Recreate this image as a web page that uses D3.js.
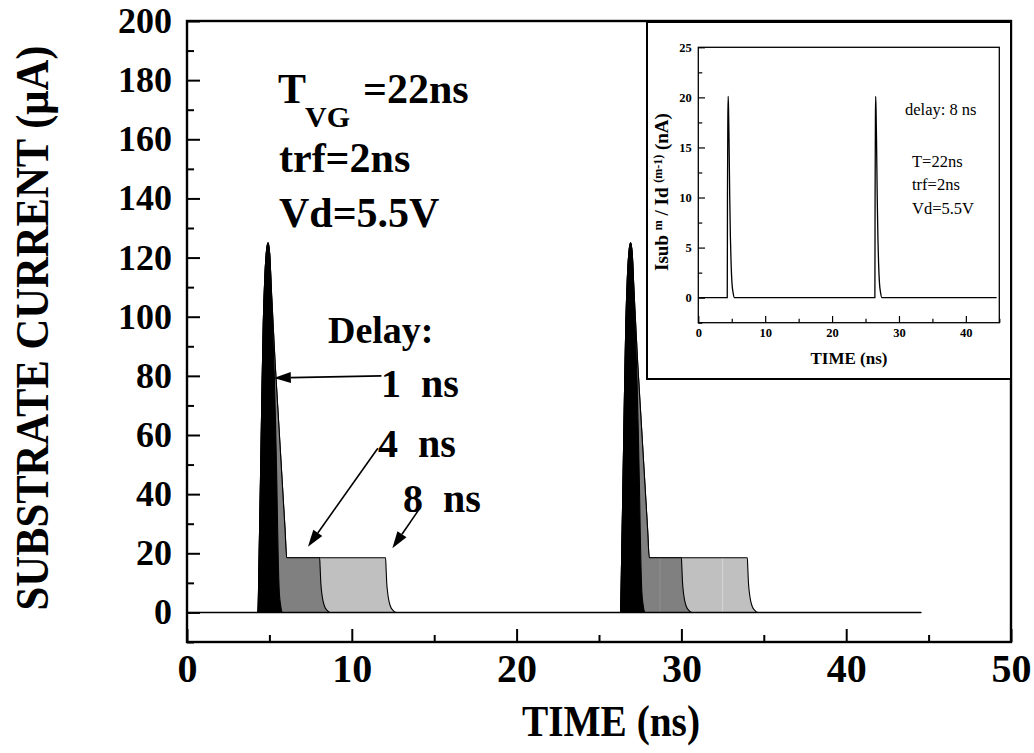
<!DOCTYPE html>
<html><head><meta charset="utf-8">
<script src="https://cdn.jsdelivr.net/npm/d3@7"></script>
<style>
body{margin:0;background:#fff}
text{font-family:"Liberation Serif","Times New Roman",Times,serif;}
</style>
</head><body>
<svg id="c" width="1034" height="753"></svg>
<script>
// ---------------- data ----------------
const mainXTicks = [0, 10, 20, 30, 40, 50];
const mainXMinor = [5, 15, 25, 35, 45];
const mainYTicks = [0, 20, 40, 60, 80, 100, 120, 140, 160, 180, 200];
const mainYMinor = [-10, 10, 30, 50, 70, 90, 110, 130, 150, 170, 190];

// substrate current (uA) vs time (ns), delay = 1 ns
const delay1ns = [[0,0],[4.30,0],[4.38,20],[4.46,45],[4.55,75],[4.63,98],[4.72,113],[4.82,122],[4.92,125],[5.02,121],[5.12,108],[5.22,92],[5.30,80],[5.38,62],[5.45,44],[5.50,28],[5.55,15],[5.60,7],[5.68,2.5],[5.80,0],
  [26.30,0],[26.38,20],[26.46,45],[26.55,75],[26.63,98],[26.72,113],[26.82,122],[26.92,125],[27.02,121],[27.12,108],[27.22,92],[27.30,80],[27.38,62],[27.45,44],[27.50,28],[27.55,15],[27.60,7],[27.68,2.5],[27.80,0],[44.55,0]];
// delay = 4 ns
const delay4ns = [[0,0],[4.30,0],[4.38,20],[4.46,45],[4.55,75],[4.63,98],[4.72,113],[4.82,122],[4.92,125],[5.02,121],[5.12,109],[5.22,98],[5.35,84],[5.50,70],[5.65,56],[5.80,42],[5.95,28],[6.05,18.5],[8.05,18.5],[8.08,15],[8.12,10],[8.18,6.5],[8.25,4],[8.35,2],[8.50,0.7],[8.70,0],
  [26.30,0],[26.38,20],[26.46,45],[26.55,75],[26.63,98],[26.72,113],[26.82,122],[26.92,125],[27.02,121],[27.12,109],[27.22,98],[27.35,84],[27.50,70],[27.65,56],[27.80,42],[27.95,28],[28.05,18.5],[30.00,18.5],[30.03,15],[30.07,10],[30.13,6.5],[30.20,4],[30.30,2],[30.45,0.7],[30.65,0],[44.55,0]];
// delay = 8 ns
const delay8ns = [[0,0],[4.30,0],[4.38,20],[4.46,45],[4.55,75],[4.63,98],[4.72,113],[4.82,122],[4.92,125],[5.02,121],[5.12,109],[5.22,98],[5.35,84],[5.50,70],[5.65,56],[5.80,42],[5.95,28],[6.05,18.5],[12.05,18.5],[12.08,15],[12.12,10],[12.18,6.5],[12.25,4],[12.35,2],[12.50,0.7],[12.70,0],
  [26.30,0],[26.38,20],[26.46,45],[26.55,75],[26.63,98],[26.72,113],[26.82,122],[26.92,125],[27.02,121],[27.12,109],[27.22,98],[27.35,84],[27.50,70],[27.65,56],[27.80,42],[27.95,28],[28.05,18.5],[34.00,18.5],[34.03,15],[34.07,10],[34.13,6.5],[34.20,4],[34.30,2],[34.45,0.7],[34.65,0],[44.55,0]];
// faint seams seen inside the second pulse
const seams = [[28.7, 18.5, "dark"], [32.5, 18.5, "light"]];

// inset
const insetXTicks = [0, 10, 20, 30, 40];
const insetXMinor = [5, 15, 25, 35, 45];
const insetYTicks = [0, 5, 10, 15, 20, 25];
const insetYMinor = [-2.5, 2.5, 7.5, 12.5, 17.5, 22.5];
const insetSignal = [[0,0],[4.33,0],[4.36,10],[4.42,18],[4.47,20.1],[4.53,18.5],[4.60,15.5],[4.70,10],[4.80,6],[4.90,3.5],[5.03,1.5],[5.20,0.5],[5.40,0],
  [26.40,0],[26.43,10],[26.48,18],[26.52,20.1],[26.58,18.5],[26.65,15.5],[26.75,10],[26.85,6],[26.95,3.5],[27.08,1.5],[27.25,0.5],[27.45,0],[44.6,0]];

// arrows (data coordinates: [tail t, tail v, head t, head v])
const arrows = [[11.8, 80, 5.27, 79.3], [11.58, 55.5, 7.34, 22.2], [14.05, 34.6, 12.46, 21.7]];

// ---------------- drawing ----------------
const svg = d3.select("#c");
const x = d3.scaleLinear().domain([0, 50]).range([187, 1011]);
const y = d3.scaleLinear().domain([-10, 200]).range([642, 21]);

const fills = {d8: "#c0c0c0", d4: "#808080", d1: "#000000"};
const area = d3.area().x(d => x(d[0])).y0(y(0)).y1(d => y(d[1])).curve(d3.curveMonotoneX);
const line = d3.line().x(d => x(d[0])).y(d => y(d[1])).curve(d3.curveMonotoneX);

[[delay8ns, fills.d8], [delay4ns, fills.d4], [delay1ns, fills.d1]].forEach(([data, col]) => {
  svg.append("path").attr("d", area(data)).attr("fill", col).attr("stroke", "none");
  svg.append("path").attr("d", line(data)).attr("fill", "none").attr("stroke", "#000").attr("stroke-width", 1.1);
});
seams.forEach(s => {
  svg.append("line").attr("x1", x(s[0])).attr("x2", x(s[0])).attr("y1", y(0) - 1).attr("y2", y(s[1]) + 1)
    .attr("stroke", s[2] === "dark" ? "#8f8f8f" : "#d6d6d6").attr("stroke-width", 1);
});
// baseline
svg.append("line").attr("x1", x(0)).attr("x2", x(44.55)).attr("y1", y(0)).attr("y2", y(0))
  .attr("stroke", "#000").attr("stroke-width", 1.6);

// axes
function styleAxis(g, fs) {
  g.select(".domain").remove();
  g.selectAll(".tick line").attr("stroke", "#000").attr("stroke-width", 2);
  g.selectAll(".tick text").attr("fill", "#000").attr("font-weight", "bold").attr("font-size", fs)
    .attr("font-family", '"Liberation Serif","Times New Roman",serif');
}
const gy = svg.append("g").attr("transform", `translate(${x(0)},0)`)
  .call(d3.axisLeft(y).tickValues(mainYTicks).tickSize(-13).tickPadding(15).tickFormat(d3.format("d")));
styleAxis(gy, 36);
const gym = svg.append("g").attr("transform", `translate(${x(0)},0)`)
  .call(d3.axisLeft(y).tickValues(mainYMinor).tickSize(-7).tickFormat(""));
styleAxis(gym, 36);
const gx = svg.append("g").attr("transform", `translate(0,${y(-10)})`)
  .call(d3.axisBottom(x).tickValues(mainXTicks).tickSize(-13).tickPadding(12).tickFormat(d3.format("d")));
styleAxis(gx, 40);
const gxm = svg.append("g").attr("transform", `translate(0,${y(-10)})`)
  .call(d3.axisBottom(x).tickValues(mainXMinor).tickSize(-7).tickFormat(""));
styleAxis(gxm, 40);
svg.append("rect").attr("x", x(0)).attr("y", y(200)).attr("width", x(50) - x(0)).attr("height", y(-10) - y(200))
  .attr("fill", "none").attr("stroke", "#000").attr("stroke-width", 2.4);

// axis titles
svg.append("text").attr("transform", "translate(48,328) rotate(-90)").attr("text-anchor", "middle")
  .attr("font-weight", "bold").attr("font-size", 46).attr("textLength", 565).attr("lengthAdjust", "spacingAndGlyphs")
  .text("SUBSTRATE CURRENT (\u03bcA)");
svg.append("text").attr("x", 611).attr("y", 736).attr("text-anchor", "middle")
  .attr("font-weight", "bold").attr("font-size", 44).attr("textLength", 178).attr("lengthAdjust", "spacingAndGlyphs")
  .text("TIME (ns)");

// annotations
const ann = svg.append("g").attr("font-weight", "bold").attr("fill", "#000");
ann.append("text").attr("x", 278).attr("y", 103).attr("font-size", 42).text("T");
ann.append("text").attr("x", 305).attr("y", 127).attr("font-size", 30).text("VG");
ann.append("text").attr("x", 363).attr("y", 103).attr("font-size", 42).text("=22ns");
ann.append("text").attr("x", 279).attr("y", 172).attr("font-size", 42).text("trf=2ns");
ann.append("text").attr("x", 279).attr("y", 227).attr("font-size", 42).text("Vd=5.5V");
ann.append("text").attr("x", 328).attr("y", 343).attr("font-size", 38).text("Delay:");
ann.append("text").attr("x", 381).attr("y", 397).attr("font-size", 40).attr("word-spacing", 10).text("1 ns");
ann.append("text").attr("x", 378).attr("y", 457).attr("font-size", 40).attr("word-spacing", 10).text("4 ns");
ann.append("text").attr("x", 403).attr("y", 512).attr("font-size", 40).attr("word-spacing", 10).text("8 ns");

arrows.forEach(a => {
  const x1 = x(a[0]), y1 = y(a[1]), x2 = x(a[2]), y2 = y(a[3]);
  const ang = Math.atan2(y2 - y1, x2 - x1), L = 17, Wd = 5.5;
  const bx = x2 - L * Math.cos(ang), by = y2 - L * Math.sin(ang);
  svg.append("line").attr("x1", x1).attr("y1", y1).attr("x2", bx).attr("y2", by).attr("stroke", "#000").attr("stroke-width", 1.6);
  const p = [[x2, y2], [bx + Wd * Math.sin(ang), by - Wd * Math.cos(ang)], [bx - Wd * Math.sin(ang), by + Wd * Math.cos(ang)]];
  svg.append("path").attr("d", "M" + p.map(q => q.join(",")).join("L") + "Z").attr("fill", "#000");
});

// ---------------- inset ----------------
svg.append("rect").attr("x", 647).attr("y", 22).attr("width", 1011 - 647).attr("height", 379 - 22)
  .attr("fill", "#fff").attr("stroke", "#000").attr("stroke-width", 2);
const ix = d3.scaleLinear().domain([0, 45]).range([698.3, 999.3]);
const iy = d3.scaleLinear().domain([-2.5, 25]).range([322.7, 47.3]);
const iline = d3.line().x(d => ix(d[0])).y(d => iy(d[1])).curve(d3.curveMonotoneX);
svg.append("path").attr("d", iline(insetSignal)).attr("fill", "none").attr("stroke", "#000").attr("stroke-width", 1.3);

function styleInset(g) {
  g.select(".domain").remove();
  g.selectAll(".tick line").attr("stroke", "#000").attr("stroke-width", 1.2);
  g.selectAll(".tick text").attr("fill", "#000").attr("font-weight", "bold").attr("font-size", 12.5)
    .attr("font-family", '"Liberation Serif","Times New Roman",serif');
}
styleInset(svg.append("g").attr("transform", `translate(${ix(0)},0)`)
  .call(d3.axisLeft(iy).tickValues(insetYTicks).tickSize(-6.7).tickPadding(6.6).tickFormat(d3.format("d"))));
styleInset(svg.append("g").attr("transform", `translate(${ix(0)},0)`)
  .call(d3.axisLeft(iy).tickValues(insetYMinor).tickSize(-4).tickFormat("")));
styleInset(svg.append("g").attr("transform", `translate(0,${iy(-2.5)})`)
  .call(d3.axisBottom(ix).tickValues(insetXTicks).tickSize(-6.7).tickPadding(5.5).tickFormat(d3.format("d"))));
styleInset(svg.append("g").attr("transform", `translate(0,${iy(-2.5)})`)
  .call(d3.axisBottom(ix).tickValues(insetXMinor).tickSize(-4).tickFormat("")));
svg.append("rect").attr("x", ix(0)).attr("y", iy(25)).attr("width", ix(45) - ix(0)).attr("height", iy(-2.5) - iy(25))
  .attr("fill", "none").attr("stroke", "#000").attr("stroke-width", 1.3);

// inset texts
const it = svg.append("g").attr("fill", "#000");
it.append("text").attr("x", 905).attr("y", 115).attr("font-size", 16.5).text("delay: 8 ns");
it.append("text").attr("x", 912).attr("y", 167).attr("font-size", 16.5).text("T=22ns");
it.append("text").attr("x", 912).attr("y", 190).attr("font-size", 16.5).text("trf=2ns");
it.append("text").attr("x", 912).attr("y", 214).attr("font-size", 16.5).text("Vd=5.5V");
const ylab = it.append("text").attr("transform", "translate(668,192) rotate(-90)").attr("text-anchor", "middle")
  .attr("font-weight", "bold").attr("font-size", 19);
ylab.append("tspan").text("Isub ");
ylab.append("tspan").attr("font-size", 12).attr("dy", -6).text("m");
ylab.append("tspan").attr("dy", 6).text(" / Id ");
ylab.append("tspan").attr("font-size", 12).attr("dy", -6).text("(m-1)");
ylab.append("tspan").attr("dy", 6).text("  (nA)");
it.append("text").attr("x", 849).attr("y", 364).attr("text-anchor", "middle")
  .attr("font-weight", "bold").attr("font-size", 17).text("TIME (ns)");
</script>
</body></html>
